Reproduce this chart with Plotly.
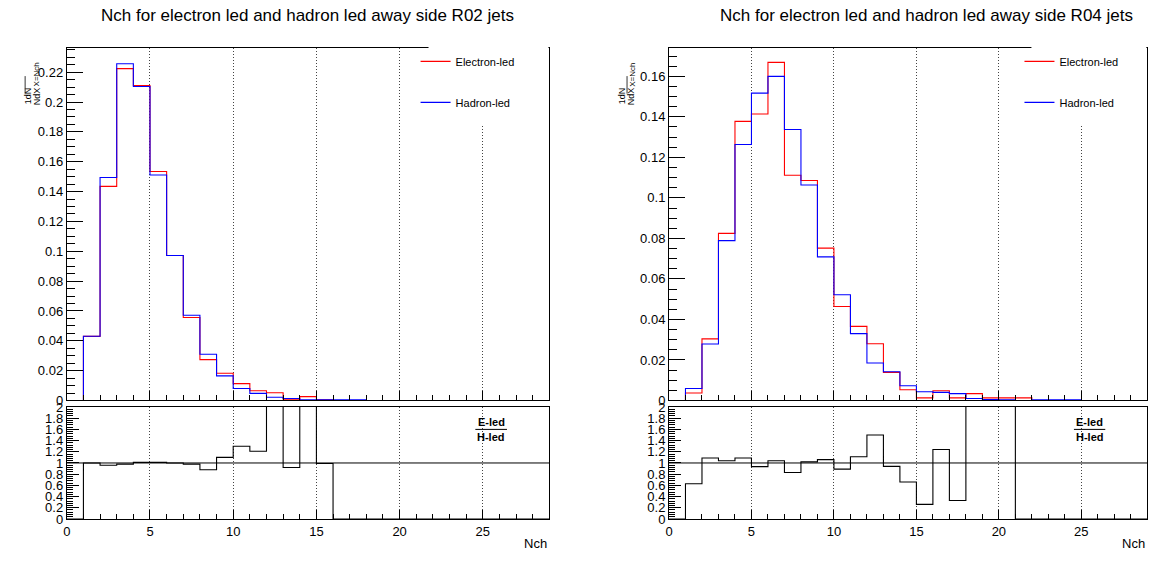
import numpy as np
import plotly.graph_objects as go

W, H = 1155, 561

# ---------------- data ----------------
edges = list(range(0, 30))  # bin edges 0..29 (29 bins of width 1)

r02_electron = [0, 0.043, 0.1435, 0.2224, 0.2111, 0.1535, 0.0972, 0.0556, 0.0274, 0.0183,
                0.0113, 0.0065, 0.0052, 0.0008, 0.0026, 0.0004, 0, 0, 0, 0,
                0, 0, 0, 0, 0, 0, 0, 0, 0]
r02_hadron = [0, 0.0431, 0.1494, 0.2257, 0.2104, 0.1511, 0.0972, 0.0571, 0.031, 0.0165,
              0.008, 0.0048, 0.0022, 0.0013, 0.0004, 0.0004, 0.0004, 0.0004, 0, 0,
              0, 0, 0, 0, 0, 0, 0, 0, 0]
r02_ratio = [0, 1.0, 0.96, 0.98, 1.01, 1.01, 1.0, 0.98, 0.88, 1.1,
             1.3, 1.21, 2.36, 0.92, 6.5, 0.99, 0, 0, 0, 0,
             0, 0, 0, 0, 0, 0, 0, 0, 0]

r04_electron = [0, 0.0037, 0.0304, 0.0825, 0.1378, 0.1414, 0.1669, 0.1112, 0.1086, 0.0752,
                0.0464, 0.0366, 0.028, 0.0139, 0.0053, 0.0013, 0.0048, 0.0013, 0.0034, 0.0013,
                0.0013, 0.0013, 0, 0, 0, 0, 0, 0, 0]
r04_hadron = [0, 0.0059, 0.0279, 0.0789, 0.1264, 0.1517, 0.16, 0.1338, 0.1064, 0.0709,
              0.0522, 0.033, 0.0185, 0.0142, 0.0073, 0.0043, 0.004, 0.0034, 0.001, 0.0005,
              0.0003, 0, 0.0003, 0.0003, 0.0003, 0, 0, 0, 0]
r04_ratio = [0, 0.63, 1.09, 1.04, 1.09, 0.935, 1.04, 0.83, 1.02, 1.06,
             0.89, 1.11, 1.5, 0.94, 0.66, 0.26, 1.24, 0.33, 3.4, 2.6,
             4.3, 0, 0, 0, 0, 0, 0, 0, 0]

titles = ["Nch for electron led and hadron led away side R02 jets",
          "Nch for electron led and hadron led away side R04 jets"]
series_names = ["Electron-led", "Hadron-led"]
x_ticks = [0, 5, 10, 15, 20, 25]

FONT = "Liberation Sans, Arial, Helvetica, sans-serif"


def px(x):
    return x / W


def py(y):
    return 1 - y / H


def step(vals):
    return edges, list(vals) + [vals[-1]]


fig = go.Figure()

panels = [
    dict(e=r02_electron, h=r02_hadron, r=r02_ratio, xt="x", yt="y", xr="x2", yr="y2",
         leg="legend", gid="02"),
    dict(e=r04_electron, h=r04_hadron, r=r04_ratio, xt="x3", yt="y3", xr="x4", yr="y4",
         leg="legend2", gid="04"),
]

for p in panels:
    xs, ys = step(p["e"])
    fig.add_trace(go.Scatter(x=xs, y=ys, mode="lines", line=dict(shape="hv", color="#ff0000", width=1.1),
                             name=series_names[0], xaxis=p["xt"], yaxis=p["yt"],
                             legend=p["leg"], legendgroup="e" + p["gid"]))
    xs, ys = step(p["h"])
    fig.add_trace(go.Scatter(x=xs, y=ys, mode="lines", line=dict(shape="hv", color="#0000ff", width=1.1),
                             name=series_names[1], xaxis=p["xt"], yaxis=p["yt"],
                             legend=p["leg"], legendgroup="h" + p["gid"]))
    xs, ys = step(p["r"])
    fig.add_trace(go.Scatter(x=xs, y=ys, mode="lines", line=dict(shape="hv", color="black", width=1.1),
                             showlegend=False, xaxis=p["xr"], yaxis=p["yr"]))

common_ax = dict(showline=True, mirror=True, linecolor="black", linewidth=1, zeroline=False,
                 tickcolor="black", tickfont=dict(family=FONT, size=13, color="black"))

xdom_left = [px(63), px(547.3)]
xdom_right = [px(667.3), px(1147.3)]
ydom_top = [py(404.3), py(41.7)]
ydom_ratio = [py(526), py(411)]


def xaxis(dom, anchor, labels):
    return dict(domain=dom, anchor=anchor, range=[0, 29], tickmode="array", tickvals=x_ticks,
                showticklabels=labels, ticks="inside", ticklen=9,
                minor=dict(ticks="inside", dtick=1, ticklen=5, tickcolor="black"),
                showgrid=True, griddash="1px,2px", gridcolor="#444", gridwidth=1, **common_ax)


def yaxis(dom, anchor, rng, dtick, mdtick, tl):
    return dict(domain=dom, anchor=anchor, range=rng, dtick=dtick, tick0=0, ticks="inside",
                ticklen=tl, minor=dict(ticks="inside", dtick=mdtick, ticklen=tl / 2, tickcolor="black"),
                showgrid=False, **common_ax)


legend_common = dict(xanchor="left", yanchor="top", bgcolor="rgba(0,0,0,0)", borderwidth=0,
                     font=dict(family=FONT, size=11, color="black"), tracegroupgap=22,
                     itemwidth=30)

fig.update_layout(
    width=W, height=H, margin=dict(l=0, r=0, t=0, b=0),
    paper_bgcolor="white", plot_bgcolor="white",
    xaxis=xaxis(xdom_left, "y", False),
    yaxis=yaxis(ydom_top, "x", [0, 0.2365], 0.02, 0.005, 16),
    xaxis2=xaxis(xdom_left, "y2", True),
    yaxis2=yaxis(ydom_ratio, "x2", [0, 2], 0.2, 0.04, 12),
    xaxis3=xaxis(xdom_right, "y3", False),
    yaxis3=yaxis(ydom_top, "x3", [0, 0.1742], 0.02, 0.005, 16),
    xaxis4=xaxis(xdom_right, "y4", True),
    yaxis4=yaxis(ydom_ratio, "x4", [0, 2], 0.2, 0.04, 12),
    legend=dict(x=px(413), y=py(41), **legend_common),
    legend2=dict(x=px(1019), y=py(41), **legend_common),
    showlegend=True,
)

shapes = []
annotations = []
# white legend boxes (cover frame and grid like the ROOT TLegend)
for x0, x1 in [(426, 546.3), (1031, 1146.3)]:
    shapes.append(dict(type="rect", xref="paper", yref="paper", x0=px(x0), x1=px(x1),
                       y0=py(122), y1=py(39), fillcolor="white", line=dict(width=0), layer="above"))

for i, (xr, yr, xl, xrr) in enumerate([("x2", "y2", 63, 547.3), ("x4", "y4", 667.3, 1147.3)]):
    # reference line at ratio = 1
    shapes.append(dict(type="line", xref=xr, yref=yr, x0=0, x1=29, y0=1, y1=1,
                       line=dict(color="black", width=1)))
    # E-led / H-led fraction label
    shapes.append(dict(type="line", xref=xr, yref=yr, x0=24.55, x1=26.45, y0=1.6, y1=1.6,
                       line=dict(color="black", width=1)))
    annotations.append(dict(text="<b>E-led</b>", xref=xr, yref=yr, x=25.5, y=1.73, showarrow=False,
                            font=dict(family=FONT, size=11, color="black")))
    annotations.append(dict(text="<b>H-led</b>", xref=xr, yref=yr, x=25.5, y=1.46, showarrow=False,
                            font=dict(family=FONT, size=11, color="black")))
    # x axis title
    annotations.append(dict(text="Nch", xref="paper", yref="paper", x=px(xrr), y=py(551),
                            xanchor="right", yanchor="middle", showarrow=False,
                            font=dict(family=FONT, size=13, color="black")))
    # titles
    annotations.append(dict(text=titles[i], xref="paper", yref="paper", x=px([305, 926][i]), y=py(9),
                            xanchor="center", yanchor="middle", showarrow=False,
                            font=dict(family=FONT, size=17, color="black")))
    # y axis title: (1dN / NdX)_{X=Nch}, rotated
    off = [0, 604][i]
    yfont = dict(family=FONT, size=9, color="black")
    annotations.append(dict(text="1dN", xref="paper", yref="paper", x=px(17 + off), y=py(80),
                            textangle=-90, showarrow=False, font=yfont))
    annotations.append(dict(text="NdX", xref="paper", yref="paper", x=px(25.5 + off), y=py(80),
                            textangle=-90, showarrow=False, font=yfont))
    shapes.append(dict(type="line", xref="paper", yref="paper", x0=px(21.2 + off), x1=px(21.2 + off),
                       y0=py(71), y1=py(89), line=dict(color="black", width=0.8)))
    annotations.append(dict(text="X=Nch", xref="paper", yref="paper", x=px(26.5 + off), y=py(55),
                            textangle=-90, showarrow=False,
                            font=dict(family=FONT, size=8, color="black")))

fig.update_layout(shapes=shapes, annotations=annotations)

fig.write_html("out.html")
